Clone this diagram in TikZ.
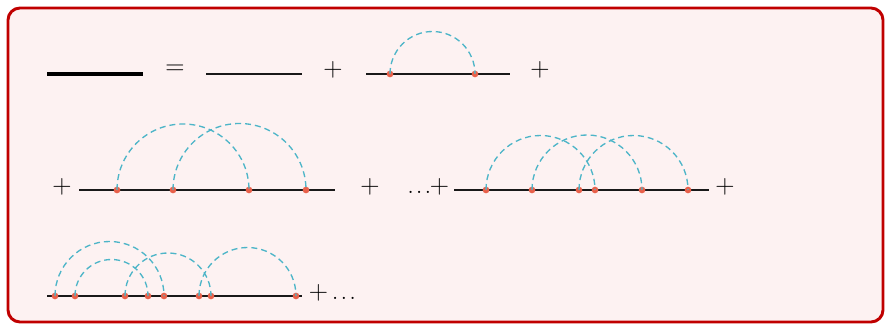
\documentclass[tikz,border=0pt]{standalone}
\usetikzlibrary{calc}
\definecolor{frameRed}{HTML}{C00000}
\definecolor{bgPink}{HTML}{FDF2F2}
\definecolor{arcCyan}{HTML}{4DB5C8}
\definecolor{dotRed}{HTML}{E8604A}
\newcommand{\mydots}{.\kern1.5pt.\kern1.5pt.}
\begin{document}
\begin{tikzpicture}[x=0.75pt,y=-0.75pt,
  sym/.style={inner sep=0pt,font=\fontsize{20}{24}\selectfont},
  vtx/.style={circle,fill=dotRed,inner sep=0pt,minimum size=5pt},
  prop/.style={line width=1pt,black!90},
  chord/.style={arcCyan,line width=1pt,dash pattern=on 4.5pt off 3pt}]
\useasboundingbox (0,0) rectangle (886,324);
\draw[frameRed,fill=bgPink,line width=2.2pt,rounded corners=9pt] (8,8) rectangle (883,322);

% Row 1
\coordinate (t1) at (47,74); \coordinate (t2) at (143,74);
\draw[line width=3.6pt] (t1) -- (t2);
\node[sym] (eq) at (175,70) {=};
\coordinate (f1) at (206,74); \coordinate (f2) at (302,74);
\draw[prop] (f1) -- (f2);
\node[sym] (p1) at (333,70) {+};
\coordinate (a1) at (366,74); \coordinate (a2) at (510,74);
\draw[prop] (a1) -- (a2);
\node[vtx] (av1) at (390,74) {};
\node[vtx] (av2) at (475,74) {};
\draw[chord] (av1.center) arc[start angle=180,end angle=360,radius=42.5];
\node[sym] (p2) at (540,70) {+};

% Row 2, first diagram
\node[sym] (p3) at (62,187) {+};
\coordinate (b1) at (79,190); \coordinate (b2) at (335,190);
\draw[prop] (b1) -- (b2);
\node[vtx] (bv1) at (117,190) {};
\node[vtx] (bv2) at (173,190) {};
\node[vtx] (bv3) at (249,190) {};
\node[vtx] (bv4) at (306,190) {};
\draw[chord] (bv1.center) arc[start angle=180,end angle=360,radius=66];
\draw[chord] (bv2.center) arc[start angle=180,end angle=360,radius=66.5];
\node[sym] (p4) at (370,187) {+};
\node[sym,anchor=west] (dp) at (407,187) {\mydots\kern-1pt+};

% Row 2, second diagram
\coordinate (c1) at (454,190); \coordinate (c2) at (709,190);
\draw[prop] (c1) -- (c2);
\node[vtx] (cv1) at (486,190) {};
\node[vtx] (cv2) at (532,190) {};
\node[vtx] (cv3) at (579,190) {};
\node[vtx] (cv4) at (595,190) {};
\node[vtx] (cv5) at (642,190) {};
\node[vtx] (cv6) at (688,190) {};
\draw[chord] (cv1.center) arc[start angle=180,end angle=360,radius=54.5];
\draw[chord] (cv2.center) arc[start angle=180,end angle=360,radius=55];
\draw[chord] (cv3.center) arc[start angle=180,end angle=360,radius=54.5];
\node[sym] (p5) at (725,187) {+};

% Row 3
\coordinate (d1) at (47,296); \coordinate (d2) at (302,296);
\draw[prop] (d1) -- (d2);
\node[vtx] (dv1) at (55,296) {};
\node[vtx] (dv2) at (75,296) {};
\node[vtx] (dv3) at (125,296) {};
\node[vtx] (dv4) at (148,296) {};
\node[vtx] (dv5) at (164,296) {};
\node[vtx] (dv6) at (199,296) {};
\node[vtx] (dv7) at (211,296) {};
\node[vtx] (dv8) at (296,296) {};
\draw[chord] (dv1.center) arc[start angle=180,end angle=360,radius=54.5];
\draw[chord] (dv2.center) arc[start angle=180,end angle=360,radius=36.5];
\draw[chord] (dv3.center) arc[start angle=180,end angle=360,radius=43];
\draw[chord] (dv6.center) arc[start angle=180,end angle=360,radius=48.5];
\node[sym,anchor=west] (pd) at (308.5,293) {+\kern3pt\mydots};
\end{tikzpicture}
\end{document}
